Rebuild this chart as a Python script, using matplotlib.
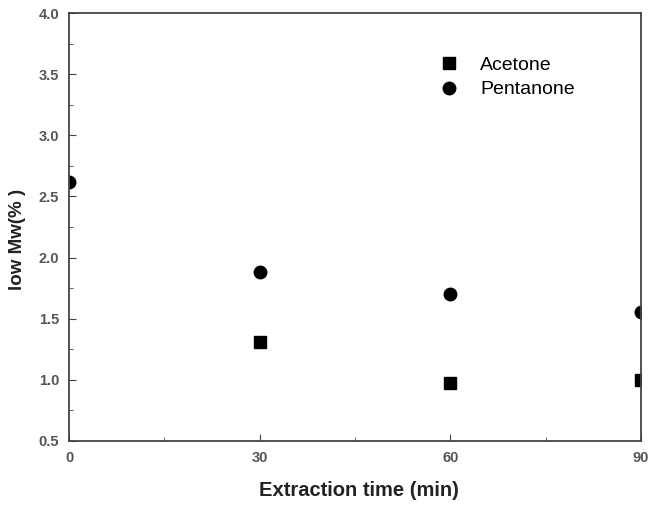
import numpy as np
import matplotlib
matplotlib.use("Agg")
from matplotlib import pyplot as plt
from matplotlib.ticker import MultipleLocator

plt.rcParams['font.family'] = ['Liberation Sans', 'DejaVu Sans']

time = [0, 30, 60, 90]
acetone_t = [30, 60, 90]
acetone = [1.31, 0.97, 1.00]
pentanone = [2.62, 1.88, 1.70, 1.555]

fig = plt.figure(figsize=(6.48, 5.05), dpi=100)
ax = fig.add_axes([0.1065, 0.127, 0.8825, 0.847])

ax.plot(acetone_t, acetone, 's', color='black', markersize=8, label='Acetone')
ax.plot(time, pentanone, 'o', color='black', markersize=9, label='Pentanone')

ax.set_xlim(0, 90)
ax.set_ylim(0.5, 4.0)
ax.xaxis.set_major_locator(MultipleLocator(30))
ax.xaxis.set_minor_locator(MultipleLocator(15))
ax.yaxis.set_major_locator(MultipleLocator(0.5))
ax.yaxis.set_minor_locator(MultipleLocator(0.25))
ax.yaxis.set_major_formatter(matplotlib.ticker.FormatStrFormatter('%.1f'))
ax.tick_params(which='both', direction='in', top=False, right=False,
               labelsize=10.5, labelcolor='#555555', color='#444444')
ax.tick_params(which='major', length=5, pad=7)
ax.tick_params(which='minor', length=3)
for lbl in ax.get_xticklabels() + ax.get_yticklabels():
    lbl.set_fontweight('bold')
for s in ax.spines.values():
    s.set_color('#444444')
    s.set_linewidth(1.3)

ax.set_xlabel('Extraction time (min)', fontsize=14.5, fontweight='bold', color='#222222')
ax.set_ylabel('low Mw(% )', fontsize=13.5, fontweight='bold', color='#222222')
ax.xaxis.set_label_coords(0.507, -0.095)
ax.yaxis.set_label_coords(-0.076, 0.472)

ax.legend(loc='upper left', bbox_to_anchor=(0.6, 0.94), frameon=False,
          handletextpad=0.6, labelspacing=0.35, prop={'size': 14})

fig.savefig('out.png', dpi=100)
